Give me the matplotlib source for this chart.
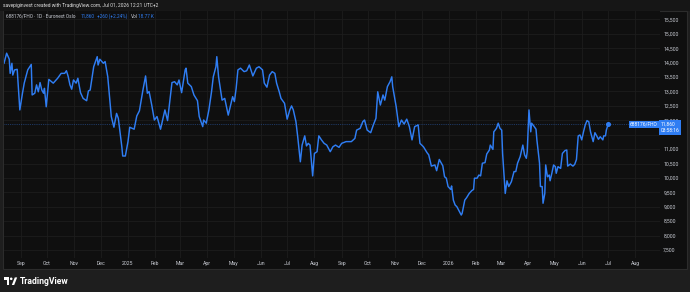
import matplotlib
matplotlib.use("Agg")
import matplotlib.pyplot as plt
import matplotlib.patches as mpatches
import matplotlib.transforms as mtransforms
import pandas as pd

# daily close (approx)
dates = [
    "2024-08-13", "2024-08-16", "2024-08-19", "2024-08-20", "2024-08-22", "2024-08-23", "2024-08-25",
    "2024-08-28", "2024-08-31", "2024-09-03", "2024-09-05", "2024-09-09", "2024-09-13", "2024-09-14",
    "2024-09-17", "2024-09-19", "2024-09-21", "2024-09-23", "2024-09-25", "2024-09-27", "2024-09-28",
    "2024-09-30", "2024-10-03", "2024-10-08", "2024-10-13", "2024-10-17", "2024-10-21", "2024-10-23",
    "2024-10-25", "2024-10-27", "2024-10-29", "2024-10-31", "2024-11-03", "2024-11-05", "2024-11-08",
    "2024-11-11", "2024-11-15", "2024-11-17", "2024-11-19", "2024-11-23", "2024-11-27", "2024-11-28",
    "2024-11-30", "2024-12-04", "2024-12-06", "2024-12-09", "2024-12-13", "2024-12-16", "2024-12-19",
    "2024-12-21", "2024-12-25", "2024-12-26", "2024-12-29", "2025-01-01", "2025-01-03", "2025-01-08",
    "2025-01-11", "2025-01-14", "2025-01-18", "2025-01-21", "2025-01-23", "2025-01-25", "2025-01-28",
    "2025-01-31", "2025-02-03", "2025-02-07", "2025-02-12", "2025-02-15", "2025-02-20", "2025-02-23",
    "2025-02-26", "2025-02-28", "2025-03-03", "2025-03-07", "2025-03-08", "2025-03-10", "2025-03-14",
    "2025-03-17", "2025-03-21", "2025-03-23", "2025-03-27", "2025-03-28", "2025-03-31", "2025-04-03",
    "2025-04-06", "2025-04-08", "2025-04-11", "2025-04-12", "2025-04-14", "2025-04-16", "2025-04-18",
    "2025-04-21", "2025-04-25", "2025-04-30", "2025-05-02", "2025-05-04", "2025-05-06", "2025-05-09",
    "2025-05-13", "2025-05-16", "2025-05-19", "2025-05-23", "2025-05-27", "2025-05-30", "2025-06-03",
    "2025-06-05", "2025-06-08", "2025-06-11", "2025-06-14", "2025-06-17", "2025-06-19", "2025-06-22",
    "2025-06-24", "2025-06-28", "2025-07-01", "2025-07-04", "2025-07-06", "2025-07-08", "2025-07-11",
    "2025-07-13", "2025-07-16", "2025-07-18", "2025-07-21", "2025-07-23", "2025-07-25", "2025-07-27",
    "2025-07-30", "2025-08-01", "2025-08-04", "2025-08-06", "2025-08-09", "2025-08-12", "2025-08-15",
    "2025-08-19", "2025-08-22", "2025-08-25", "2025-08-29", "2025-09-01", "2025-09-06", "2025-09-12",
    "2025-09-16", "2025-09-18", "2025-09-22", "2025-09-25", "2025-09-27", "2025-09-30", "2025-10-04",
    "2025-10-07", "2025-10-10", "2025-10-12", "2025-10-15", "2025-10-18", "2025-10-20", "2025-10-23",
    "2025-10-26", "2025-10-28", "2025-10-29", "2025-11-02", "2025-11-05", "2025-11-08", "2025-11-11",
    "2025-11-14", "2025-11-17", "2025-11-20", "2025-11-23", "2025-11-27", "2025-11-29", "2025-12-03",
    "2025-12-07", "2025-12-09", "2025-12-12", "2025-12-16", "2025-12-18", "2025-12-21", "2025-12-25",
    "2025-12-27", "2025-12-29", "2025-12-31", "2026-01-03", "2026-01-04", "2026-01-06", "2026-01-08",
    "2026-01-10", "2026-01-13", "2026-01-15", "2026-01-16", "2026-01-19", "2026-01-21", "2026-01-24",
    "2026-01-27", "2026-01-29", "2026-01-30", "2026-02-02", "2026-02-04", "2026-02-06", "2026-02-08",
    "2026-02-11", "2026-02-13", "2026-02-16", "2026-02-17", "2026-02-20", "2026-02-21", "2026-02-24",
    "2026-02-26", "2026-02-28", "2026-03-02", "2026-03-03", "2026-03-06", "2026-03-08", "2026-03-10",
    "2026-03-13", "2026-03-16", "2026-03-18", "2026-03-20", "2026-03-23", "2026-03-26", "2026-03-28",
    "2026-03-30", "2026-03-31", "2026-04-02", "2026-04-04", "2026-04-05", "2026-04-08", "2026-04-10",
    "2026-04-11", "2026-04-14", "2026-04-15", "2026-04-17", "2026-04-18", "2026-04-20", "2026-04-21",
    "2026-04-23", "2026-04-25", "2026-04-26", "2026-04-28", "2026-04-30", "2026-05-02", "2026-05-03",
    "2026-05-05", "2026-05-08", "2026-05-10", "2026-05-13", "2026-05-15", "2026-05-16", "2026-05-19",
    "2026-05-22", "2026-05-24", "2026-05-26", "2026-05-28", "2026-05-30", "2026-06-01", "2026-06-03",
    "2026-06-05", "2026-06-07", "2026-06-09", "2026-06-11", "2026-06-14", "2026-06-16", "2026-06-18",
    "2026-06-20", "2026-06-22", "2026-06-25", "2026-06-26", "2026-06-28", "2026-06-29", "2026-07-01",
]
close = [
    13980, 14330, 14120, 13630, 13980, 13570, 13750,
    13770, 12360, 12940, 13290, 13750, 13940, 12880,
    12940, 13230, 12990, 13310, 13050, 12940, 13110,
    12470, 13420, 13290, 13460, 13630, 13630, 13720,
    13520, 13230, 13080, 13400, 13290, 13460, 12960,
    12760, 12680, 13020, 13050, 13860, 14210, 13920,
    14120, 13980, 14040, 13510, 12130, 11760, 12240,
    12070, 11080, 10760, 10760, 11260, 11760, 11690,
    12150, 12330, 13050, 13540, 12940, 13000, 12530,
    12010, 12130, 11690, 12360, 11990, 13310, 13340,
    13230, 13400, 12960, 13750, 13810, 13290, 13170,
    12880, 12680, 12130, 11780, 12010, 11900, 12360,
    12990, 13510, 13860, 14210, 13510, 13110, 12700,
    12760, 12180, 12820, 12650, 13110, 13750, 13810,
    13690, 13720, 13920, 13540, 13810, 13860, 13750,
    13290, 13150, 13570, 13690, 13630, 13290, 12990,
    12760, 12590, 12040, 12360, 12500, 12360, 11950,
    11430, 10560, 11140, 11460, 11110, 11200, 11140,
    10070, 10850, 10910, 11460, 11320, 11200, 11140,
    10910, 11080, 11140, 11060, 11200, 11260, 11260,
    11370, 11660, 11720, 11950, 12010, 11660, 11570,
    11840, 12070, 12990, 12530, 12880, 12700, 13170,
    13340, 13510, 13170, 12470, 11780, 12010, 11870,
    12040, 11780, 11320, 11780, 11840, 11200, 11080,
    10880, 10800, 10410, 10450, 10250, 10640, 10420,
    10040, 9990, 9700, 9600, 9720, 9230, 9060,
    9000, 8830, 8710, 8770, 9230, 9310, 9460,
    9560, 9600, 9990, 9990, 10100, 10070, 10510,
    10530, 10830, 10970, 11140, 10990, 11600, 11720,
    11900, 11720, 11660, 10850, 9460, 9900, 9700,
    9870, 10220, 10220, 10510, 10740, 11140, 10800,
    10680, 10910, 12360, 11600, 11900, 11780, 11690,
    11320, 10510, 9700, 9700, 9120, 9460, 10450,
    10040, 10100, 9900, 10160, 10450, 10390, 10160,
    10390, 10330, 10850, 10950, 10970, 10410, 10480,
    10410, 10470, 10640, 11460, 11490, 11320, 11600,
    11840, 11990, 11950, 11600, 11260, 11570, 11460,
    11340, 11430, 11320, 11460, 11460, 11660, 11860,
]
price_ticks = [7500, 8000, 8500, 9000, 9500, 10000, 10500, 11000, 11500,
               12000, 12500, 13000, 13500, 14000, 14500, 15000, 15500]
hidden_tick = 11500  # sits under the last-price box

title = "savepiginvest created with TradingView.com, Jul 01, 2026 12:21 UTC+2"
symbol = "688176/FHO"
last_label = "11,860"
timer = "03:58:16"
legend_parts = ["688176/FHO · 1D · Euronext Oslo", "11,860", "+260 (+2.24%)", "Vol", "18.77 K"]

W, H = 690, 292
BLUE = "#2f7df3"
TXT = "#c9ccd4"
BG = "#0f0f0f"
GRID = "#1d1d1d"
FONT = ["Roboto", "DejaVu Sans"]

x = pd.to_datetime(dates)

fig = plt.figure(figsize=(W / 100, H / 100), dpi=100, facecolor="#1e1e1e")

def fx(px):
    return px / W

def fy(py):
    return 1 - py / H

# header strip and chart panel (behind the axes)
fig.patches.append(mpatches.Rectangle((0, fy(11)), 1, 11 / H, transform=fig.transFigure,
                                      facecolor="#161616", edgecolor="none", zorder=-2))
fig.patches.append(mpatches.Rectangle((fx(2.5), fy(268.5)), fx(684), 258 / H, transform=fig.transFigure,
                                      facecolor=BG, edgecolor="#2c2c2c", linewidth=0.8, zorder=-1))

ax = fig.add_axes([fx(4), fy(258), fx(656), 247 / H])
ax.set_zorder(2)
ax.set_facecolor(BG)
ax.plot(x, close, color=BLUE, lw=1.05, solid_joinstyle="round", zorder=3)
ax.plot(x[-1:], close[-1:], "o", color=BLUE, ms=2.6, zorder=4)
ax.axhline(close[-1], color="#24467e", lw=0.6, ls=(0, (1, 1.2)), zorder=2)

ax.set_xlim(pd.Timestamp("2024-08-13"), pd.Timestamp("2026-08-29"))
ax.set_ylim(7219, 15795)

months = pd.date_range("2024-09-01", "2026-08-01", freq="MS")
ax.set_xticks(months)
ax.set_xticklabels([str(m.year) if m.month == 1 else m.strftime("%b") for m in months])
ax.set_yticks(price_ticks)
ax.set_yticklabels(["" if v == hidden_tick else f"{v:,}" for v in price_ticks])
ax.yaxis.tick_right()
ax.tick_params(axis="both", length=0, labelsize=3.7, labelcolor=TXT)
ax.tick_params(axis="x", pad=2.2)
ax.tick_params(axis="y", pad=2.4)
for lab in ax.get_xticklabels() + ax.get_yticklabels():
    lab.set_family(FONT)
ax.grid(True, color=GRID, lw=0.6)
ax.set_axisbelow(True)
for s in ax.spines.values():
    s.set_visible(False)

# labels on the price scale
tr = mtransforms.blended_transform_factory(ax.transAxes, ax.transData)
ax.text(1 - 2.5 / 656, close[-1], symbol, transform=tr, ha="right", va="center", fontsize=3.5,
        color="white", family=FONT, clip_on=False, zorder=6,
        bbox=dict(boxstyle="square,pad=0.25", facecolor=BLUE, edgecolor="none"))
ax.text(1 + 0.8 / 656, close[-1] + 80, last_label + "\n" + timer, transform=tr, ha="left", va="top",
        fontsize=3.5, color="white", family=FONT, clip_on=False, zorder=6, linespacing=1.25,
        bbox=dict(boxstyle="square,pad=0.35", facecolor=BLUE, edgecolor="none"))

# header texts
fig.text(fx(3), fy(5), title, fontsize=3.55, color="#e0e0e0", va="center", family=FONT)

# legend line, pieces chained left to right
legend_colors = [TXT, BLUE, BLUE, TXT, BLUE]
legend_gaps = [0, 3.5, 2.2, 2.0, 0.3]
prev = fig.text(fx(6), fy(16.5), legend_parts[0], fontsize=3.4, color=legend_colors[0],
                va="center", family=FONT)
for s, c, gap in zip(legend_parts[1:], legend_colors[1:], legend_gaps[1:]):
    prev = ax.annotate(s, xy=(1, 0.5), xycoords=prev, xytext=(gap, 0), textcoords="offset points",
                       fontsize=3.4, color=c, va="center", ha="left", family=FONT,
                       annotation_clip=False)

# footer logo
fig.patches.append(mpatches.Rectangle((fx(4), fy(280)), fx(5), 2.6 / H, transform=fig.transFigure,
                                      facecolor="white", edgecolor="none"))
fig.patches.append(mpatches.Rectangle((fx(6.8), fy(285)), fx(2.2), 7.6 / H, transform=fig.transFigure,
                                      facecolor="white", edgecolor="none"))
fig.patches.append(mpatches.Ellipse((fx(11.2), fy(278.8)), fx(2.6), 2.6 / H, transform=fig.transFigure,
                                    facecolor="white", edgecolor="none"))
fig.patches.append(mpatches.Polygon([(fx(11.8), fy(285)), (fx(14.2), fy(285)), (fx(17.2), fy(277.4)),
                                     (fx(14.8), fy(277.4))], closed=True, transform=fig.transFigure,
                                    facecolor="white", edgecolor="none"))
fig.text(fx(19.5), fy(281.2), "TradingView", fontsize=6.2, color="white", weight="bold",
         va="center", family=FONT)

fig.savefig("out.png", dpi=100, facecolor=fig.get_facecolor())
